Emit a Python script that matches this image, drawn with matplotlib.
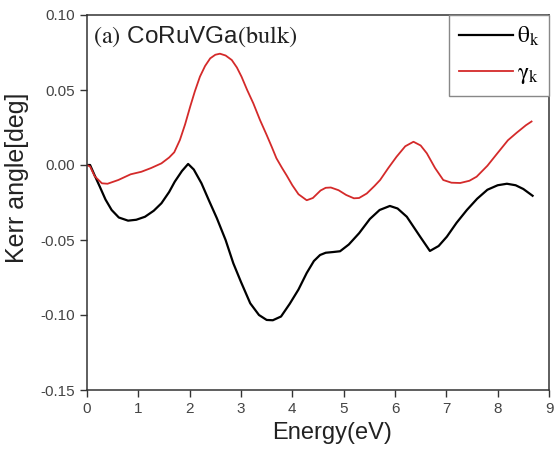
import matplotlib
matplotlib.use("Agg")
import matplotlib.pyplot as plt

# ---- data ----
theta_E = [0, 0.06, 0.15, 0.25, 0.36, 0.48, 0.62, 0.8, 0.96, 1.13, 1.3, 1.45, 1.6, 1.71,
           1.85, 1.97, 2.08, 2.23, 2.38, 2.53, 2.7, 2.85, 3.0, 3.18, 3.35, 3.5, 3.62,
           3.78, 3.95, 4.12, 4.28, 4.42, 4.54, 4.65, 4.8, 4.93, 5.1, 5.3, 5.51, 5.7, 5.9,
           6.05, 6.23, 6.49, 6.68, 6.85, 7.01, 7.2, 7.4, 7.6, 7.8, 8.0, 8.18, 8.35, 8.5,
           8.68]
theta_k = [0, 0.0, -0.007, -0.0145, -0.023, -0.030, -0.0350, -0.0371, -0.0365, -0.0345,
           -0.0305, -0.0255, -0.018, -0.0111, -0.004, 0.0007, -0.003, -0.0122, -0.024,
           -0.0355, -0.050, -0.0655, -0.078, -0.0922, -0.100, -0.1033, -0.1035, -0.101,
           -0.0925, -0.083, -0.072, -0.064, -0.0600, -0.0585, -0.0580, -0.0575, -0.053,
           -0.0455, -0.0360, -0.030, -0.0273, -0.029, -0.0345, -0.0478, -0.0573, -0.054,
           -0.0478, -0.0385, -0.0300, -0.0225, -0.0165, -0.0135, -0.0125, -0.0135,
           -0.016, -0.0205]

gamma_E = [0, 0.06, 0.15, 0.29, 0.4, 0.61, 0.85, 1.06, 1.25, 1.45, 1.6, 1.7, 1.81, 1.91,
           2.01, 2.1, 2.2, 2.3, 2.4, 2.5, 2.59, 2.7, 2.82, 2.92, 3.01, 3.12, 3.24, 3.37,
           3.5, 3.6, 3.69, 3.8, 3.89, 4.0, 4.12, 4.28, 4.4, 4.55, 4.65, 4.75, 4.9, 5.05,
           5.2, 5.3, 5.45, 5.6, 5.71, 5.87, 6.03, 6.2, 6.36, 6.5, 6.62, 6.78, 6.94, 7.1,
           7.27, 7.45, 7.59, 7.8, 7.98, 8.2, 8.37, 8.55, 8.66]
gamma_k = [0, -0.001, -0.0075, -0.0122, -0.0125, -0.0100, -0.0062, -0.0045, -0.0020,
           0.0011, 0.0050, 0.0085, 0.0167, 0.027, 0.0389, 0.049, 0.0589, 0.066, 0.0711,
           0.0735, 0.0742, 0.0730, 0.0700, 0.065, 0.0589, 0.050, 0.0411, 0.030, 0.0200,
           0.012, 0.0045, -0.002, -0.0070, -0.0135, -0.0195, -0.0235, -0.022, -0.0170,
           -0.0152, -0.0150, -0.0168, -0.0200, -0.0222, -0.0220, -0.019, -0.014, -0.0100,
           -0.002, 0.0055, 0.0125, 0.0155, 0.0130, 0.0078, -0.002, -0.0100, -0.0118,
           -0.0120, -0.0105, -0.0078, -0.0005, 0.0072, 0.0165, 0.0215, 0.0265, 0.0290]

x_ticks = [0, 1, 2, 3, 4, 5, 6, 7, 8, 9]
y_ticks = [-0.15, -0.10, -0.05, 0.00, 0.05, 0.10]
y_tick_labels = ["-0.15", "-0.10", "-0.05", "0.00", "0.05", "0.10"]

plt.rcParams["font.family"] = ["Liberation Sans", "DejaVu Sans"]
plt.rcParams["mathtext.fontset"] = "stix"

fig = plt.figure(figsize=(5.54, 4.5), dpi=100)
ax = fig.add_axes([87 / 554, 1 - 390 / 450, 462 / 554, 375 / 450])

ax.plot(theta_E, theta_k, color="black", lw=1.6, solid_joinstyle="round",
        label=r"$\mathrm{\theta}_\mathrm{k}$")
ax.plot(gamma_E, gamma_k, color="#d42a2a", lw=1.3, solid_joinstyle="round",
        label=r"$\mathrm{\gamma}_\mathrm{k}$")

ax.set_xlim(0, 9)
ax.set_ylim(-0.15, 0.10)
ax.set_xticks(x_ticks)
ax.set_yticks(y_ticks)
ax.set_yticklabels(y_tick_labels)
ax.tick_params(direction="out", length=5, width=1, labelsize=11,
               colors="#333333", labelcolor="#444444")
for s in ax.spines.values():
    s.set_linewidth(1.1)
    s.set_color("#333333")

ax.set_xlabel("Energy(eV)", fontsize=17, color="#222222")
ax.set_ylabel("Kerr angle[deg]", fontsize=18, color="#222222")
ax.xaxis.set_label_coords(0.53, -0.085)
ax.yaxis.set_label_coords(-0.125, 0.565)

ax.text(0.012, 0.975, r"$\mathrm{(a)}$ CoRuVGa$\mathrm{(bulk)}$", transform=ax.transAxes,
        fontsize=17.5, ha="left", va="top", color="#222222")

leg = ax.legend(loc="upper right", borderaxespad=0, fancybox=False,
                edgecolor="#888888", fontsize=17, handlelength=2.3,
                handletextpad=0.15, labelspacing=0.6, borderpad=0.42,
                framealpha=1)
leg.get_frame().set_linewidth(1.0)

fig.savefig("out.png", dpi=100)
